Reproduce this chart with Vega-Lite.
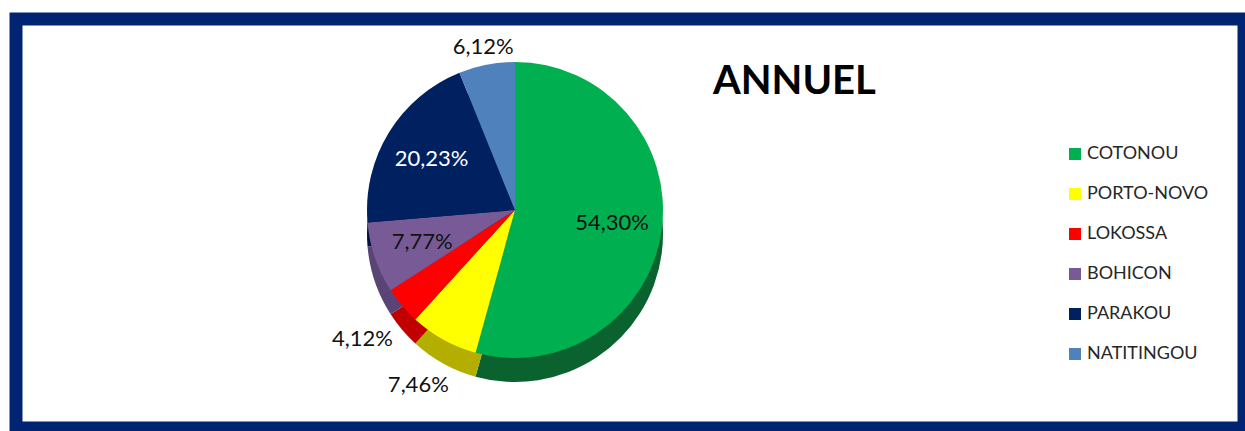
{
  "$schema": "https://vega.github.io/schema/vega-lite/v6.json",
  "width": 1228,
  "height": 409,
  "autosize": "none",
  "padding": {"left": 16, "top": 19, "right": 1, "bottom": 3},
  "background": "white",
  "view": {"fill": "white", "stroke": "#002472", "strokeWidth": 13},
  "config": {
    "view": {"fill": "white", "stroke": "#002472", "strokeWidth": 13},
    "locale": {"number": {"decimal": ",", "thousands": ".", "grouping": [3], "currency": ["", " €"]}}
  },
  "title": {
    "text": "ANNUEL",
    "anchor": "start",
    "frame": "group",
    "orient": "top",
    "offset": 0,
    "dx": 697,
    "dy": 131,
    "baseline": "alphabetic",
    "fontSize": 40,
    "font": "Lato",
    "fontWeight": "bold",
    "color": "black"
  },
  "data": {
    "values": [
      {"city": "COTONOU", "pct": 0.5430, "ord": 1, "place": "in"},
      {"city": "PORTO-NOVO", "pct": 0.0746, "ord": 2, "place": "bottom"},
      {"city": "LOKOSSA", "pct": 0.0412, "ord": 3, "place": "bottom"},
      {"city": "BOHICON", "pct": 0.0777, "ord": 4, "place": "in"},
      {"city": "PARAKOU", "pct": 0.2023, "ord": 5, "place": "in"},
      {"city": "NATITINGOU", "pct": 0.0612, "ord": 6, "place": "top"}
    ]
  },
  "encoding": {
    "theta": {"field": "pct", "type": "quantitative", "stack": true},
    "order": {"field": "ord", "type": "quantitative"}
  },
  "layer": [
    {
      "mark": {"type": "arc", "x": 499, "y": 191, "outerRadius": 148, "yOffset": 24, "strokeWidth": 0},
      "encoding": {
        "color": {
          "field": "city", "type": "nominal",
          "scale": {
            "domain": ["COTONOU", "PORTO-NOVO", "LOKOSSA", "BOHICON", "PARAKOU", "NATITINGOU"],
            "range": ["#0a632f", "#b3ae00", "#c00000", "#594475", "#001440", "#3a6394"]
          },
          "legend": null
        }
      }
    },
    {
      "mark": {"type": "arc", "x": 499, "y": 191, "outerRadius": 148, "strokeWidth": 0},
      "encoding": {
        "color": {
          "field": "city", "type": "nominal",
          "sort": ["COTONOU", "PORTO-NOVO", "LOKOSSA", "BOHICON", "PARAKOU", "NATITINGOU"],
          "scale": {
            "domain": ["COTONOU", "PORTO-NOVO", "LOKOSSA", "BOHICON", "PARAKOU", "NATITINGOU"],
            "range": ["#00b050", "#ffff00", "#ff0000", "#775a96", "#002060", "#4f81bd"]
          },
          "legend": {
            "orient": "none",
            "legendX": 1050,
            "legendY": 126,
            "title": null,
            "symbolType": "square",
            "symbolSize": 144,
            "symbolStrokeWidth": 0,
            "labelFontSize": 18,
            "labelFont": "Lato",
            "labelColor": "#262626",
            "labelOffset": 3,
            "rowPadding": 22,
            "padding": 0
          }
        }
      }
    },
    {
      "mark": {"type": "text", "x": 499, "y": 191, "radius": 98, "fontSize": 22, "font": "Lato"},
      "encoding": {
        "text": {"condition": {"test": "datum.place == 'in'", "field": "pct", "type": "quantitative", "format": ".2%"}, "value": ""},
        "color": {"condition": {"test": "datum.city == 'PARAKOU'", "value": "white"}, "value": "#111111"}
      }
    },
    {
      "mark": {"type": "text", "x": 499, "y": 191, "radius": 166, "fontSize": 22, "font": "Lato", "color": "#111111"},
      "encoding": {
        "text": {"condition": {"test": "datum.place == 'top'", "field": "pct", "type": "quantitative", "format": ".2%"}, "value": ""}
      }
    },
    {
      "mark": {"type": "text", "x": 499, "y": 191, "radius": 200, "fontSize": 22, "font": "Lato", "color": "#111111"},
      "encoding": {
        "text": {"condition": {"test": "datum.place == 'bottom'", "field": "pct", "type": "quantitative", "format": ".2%"}, "value": ""}
      }
    }
  ],
  "resolve": {"scale": {"color": "independent"}}
}
